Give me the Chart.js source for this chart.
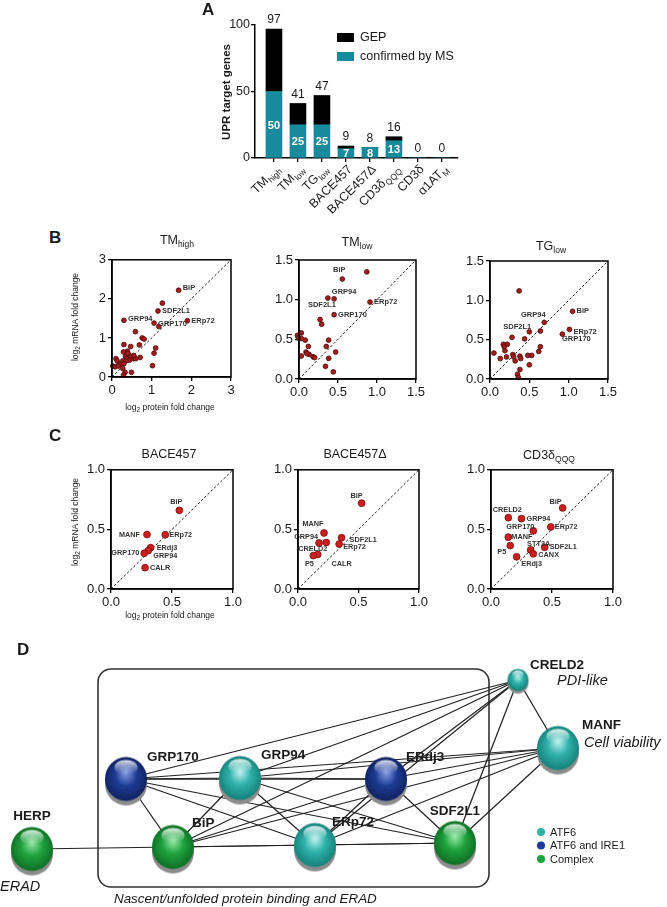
<!DOCTYPE html>
<html><head><meta charset="utf-8">
<script src="https://cdn.jsdelivr.net/npm/chart.js@4.4.1/dist/chart.umd.min.js"></script>
<style>
html,body{margin:0;padding:0;background:#fff;}
body{width:667px;height:907px;position:relative;overflow:hidden;font-family:"Liberation Sans",Arial,Helvetica,sans-serif;color:#1a1a1a;}
canvas{position:absolute;}
.txt{position:absolute;white-space:nowrap;transform:translate(-50%,-50%);line-height:1;}
.pl{font-weight:bold;font-size:17px;transform:none;}
.ttl{font-size:12.5px;}
.ttl sub{font-size:8.5px;vertical-align:-3px;line-height:0;}
.ax{font-size:8.5px;}
.ax sub{font-size:6.5px;vertical-align:-2px;line-height:0;}
.rot{transform:translate(-50%,-50%) rotate(-90deg);}
</style></head><body>
<canvas id="cA" width="300" height="240" style="left:170px;top:0px"></canvas>
<canvas id="cB1" width="165" height="160" style="left:80px;top:250px"></canvas>
<canvas id="cB2" width="165" height="162" style="left:265px;top:250px"></canvas>
<canvas id="cB3" width="170" height="162" style="left:455px;top:250px"></canvas>
<canvas id="cC1" width="175" height="165" style="left:70px;top:460px"></canvas>
<canvas id="cC2" width="175" height="165" style="left:258px;top:460px"></canvas>
<canvas id="cC3" width="180" height="165" style="left:450px;top:460px"></canvas>
<canvas id="cD" width="667" height="267" style="left:0px;top:640px"></canvas>

<div class="txt pl" style="left:202px;top:1px">A</div>
<div class="txt pl" style="left:49px;top:229px">B</div>
<div class="txt pl" style="left:49px;top:427px">C</div>
<div class="txt pl" style="left:17px;top:641px">D</div>

<div class="txt rot" style="left:227px;top:92px;font-weight:bold;font-size:11.5px">UPR target genes</div>

<div class="txt ttl" style="left:177px;top:240px">TM<sub>high</sub></div>
<div class="txt ttl" style="left:357px;top:242px">TM<sub>low</sub></div>
<div class="txt ttl" style="left:551px;top:246px">TG<sub>low</sub></div>
<div class="txt ttl" style="left:169px;top:454px">BACE457</div>
<div class="txt ttl" style="left:355px;top:454px">BACE457Δ</div>
<div class="txt ttl" style="left:549px;top:455px">CD3δ<sub>QQQ</sub></div>

<div class="txt ax rot" style="left:75px;top:317px">log<sub>2</sub> mRNA fold change</div>
<div class="txt ax" style="left:170px;top:407px">log<sub>2</sub> protein fold change</div>
<div class="txt ax rot" style="left:75px;top:522px">log<sub>2</sub> mRNA fold change</div>
<div class="txt ax" style="left:170px;top:615px">log<sub>2</sub> protein fold change</div>

<script>
// ================= DATA =================
// Panel A
const barCategories = [["TM","high"],["TM","low"],["TG","low"],["BACE457",""],["BACE457Δ",""],["CD3δ","QQQ"],["CD3δ",""],["α1AT","M"]];
const gepTotal    = [97, 41, 47, 9, 8, 16, 0, 0];
const confirmedMS = [50, 25, 25, 7, 8, 13, 0, 0];
const barTicks = [0, 50, 100];

// Panel B (log2 protein fold change = x, log2 mRNA fold change = y)
const tmHighX = [1.68,1.27,1.16,0.30,1.06,1.18,1.90,0.59,0.76,0.81,0.30,0.69,0.47,1.10,1.06,0.29,0.39,0.42,0.34,0.47,0.37,0.54,0.71,0.60,0.10,0.13,0.27,0.44,0.35,0.20,0.30,0.02,0.08,0.16,0.27,1.02,0.33,0.29,0.49,0.40,0.55];
const tmHighY = [2.22,1.89,1.69,1.45,1.38,1.29,1.44,1.16,1.00,0.97,0.83,0.82,0.78,0.74,0.61,0.64,0.66,0.57,0.53,0.53,0.47,0.47,0.50,0.47,0.47,0.41,0.41,0.43,0.41,0.33,0.34,0.28,0.26,0.28,0.22,0.29,0.12,0.05,0.12,0.60,0.55];
const tmHighNames = ["BiP","","SDF2L1","GRP94","GRP170","","ERp72"];

const tmLowX = [0.555,0.87,0.37,0.45,0.91,0.45,0.27,0.29,0.38,0.35,0.47,0.38,0.34,0.44,0.12,0.08,0.03,0.03,0.09,0.13,0.18,0.20,0.03,-0.02,-0.01,0.10];
const tmLowY = [1.26,1.35,1.02,1.01,0.97,0.81,0.75,0.69,0.49,0.41,0.34,0.26,0.16,0.09,0.41,0.49,0.58,0.51,0.34,0.31,0.28,0.27,0.29,0.55,0.52,0.32];
const tmLowNames = ["BiP","","SDF2L1","GRP94","ERp72","GRP170"];

const tgLowX = [0.37,1.05,0.69,0.50,0.64,1.01,0.92,0.44,0.28,0.05,0.13,0.17,0.22,0.18,0.19,0.21,0.29,0.30,0.32,0.38,0.39,0.48,0.53,0.62,0.64,0.50,0.38,0.35,0.36];
const tgLowY = [1.12,0.86,0.72,0.60,0.61,0.63,0.57,0.51,0.53,0.33,0.26,0.44,0.44,0.41,0.36,0.28,0.31,0.28,0.23,0.29,0.26,0.30,0.30,0.35,0.41,0.18,0.12,0.06,0.02];
const tgLowNames = ["","BiP","GRP94","SDF2L1","","ERp72","GRP170"];

// Panel C
const bace457X = [0.56,0.295,0.445,0.325,0.306,0.273,0.279];
const bace457Y = [0.66,0.457,0.455,0.347,0.322,0.300,0.179];
const bace457Names = ["BiP","MANF","ERp72","ERdj3","GRP94","GRP170","CALR"];

const bace457dX = [0.526,0.215,0.234,0.174,0.36,0.34,0.163,0.127];
const bace457dY = [0.72,0.47,0.39,0.386,0.43,0.377,0.29,0.28];
const bace457dNames = ["BiP","MANF","","GRP94","SDF2L1","ERp72","CRELD2","P5"];

const cd3X = [0.587,0.142,0.25,0.49,0.347,0.142,0.158,0.325,0.44,0.347,0.21];
const cd3Y = [0.68,0.598,0.59,0.52,0.488,0.435,0.364,0.328,0.35,0.295,0.27];
const cd3Names = ["BiP","CRELD2","GRP94","ERp72","GRP170","MANF","P5","STT3A","SDF2L1","CANX","ERdj3"];

const ticksB1 = [0,1,2,3];
const ticksB  = [0,0.5,1,1.5];
const ticksC  = [0,0.5,1];

// Panel D (network)
const nodeNames = ["GRP170","GRP94","ERdj3","BiP","ERp72","SDF2L1","HERP","CRELD2","MANF"];
const nodeX     = [126, 240, 386, 173, 315, 455, 32, 518, 558];
const nodeY     = [779, 778, 779, 847, 845, 843, 849, 680, 748];
const nodeGroup = ["ATF6 and IRE1","ATF6","ATF6 and IRE1","Complex","ATF6","Complex","Complex","ATF6","ATF6"];
const netGroups = ["ATF6","ATF6 and IRE1","Complex"];
const edges = [
 ["GRP170","GRP94"],["GRP170","ERdj3"],["GRP170","BiP"],["GRP170","ERp72"],["GRP170","SDF2L1"],["GRP170","CRELD2"],["GRP170","MANF"],
 ["GRP94","ERdj3"],["GRP94","BiP"],["GRP94","ERp72"],["GRP94","SDF2L1"],["GRP94","CRELD2"],["GRP94","MANF"],
 ["ERdj3","BiP"],["ERdj3","ERp72"],["ERdj3","SDF2L1"],["ERdj3","CRELD2"],["ERdj3","MANF"],
 ["BiP","ERp72"],["BiP","SDF2L1"],["BiP","CRELD2"],["BiP","MANF"],["BiP","HERP"],
 ["ERp72","SDF2L1"],["ERp72","MANF"],["ERp72","CRELD2"],
 ["SDF2L1","CRELD2"],["SDF2L1","MANF"],["CRELD2","MANF"]
];
const netNotes = [["PDI-like","CRELD2"],["Cell viability","MANF"],["ERAD","HERP"]];
const boxCaption = "Nascent/unfolded protein binding and ERAD";

// ================= STYLE =================
const FF = '"Liberation Sans", Arial, sans-serif';
Chart.defaults.font.family = FF;
Chart.defaults.color = '#1a1a1a';
Chart.defaults.animation = false;
const TEAL = '#178b9b';

// ================= PANEL A =================
const barPlugin = {
  id:'barPlugin',
  afterDraw(chart){
    const {ctx, scales:{x,y}} = chart;
    ctx.save();
    ctx.fillStyle='#1a1a1a'; ctx.textAlign='center'; ctx.textBaseline='bottom';
    ctx.font='12px '+FF;
    gepTotal.forEach((v,i)=>ctx.fillText(String(v), x.getPixelForValue(i), y.getPixelForValue(v)-3));
    ctx.font='bold 11px '+FF; ctx.fillStyle='#fff'; ctx.textBaseline='middle';
    confirmedMS.forEach((v,i)=>{ if(v>0) ctx.fillText(String(v), x.getPixelForValue(i), y.getPixelForValue(v/2)+1); });
    barCategories.forEach(([m,s],i)=>{
      const px=x.getPixelForValue(i), py=y.bottom+9;
      ctx.save(); ctx.translate(px+4, py); ctx.rotate(-Math.PI/4);
      ctx.font='12.5px '+FF; const wm=ctx.measureText(m).width;
      ctx.font='8.5px '+FF; const ws=s?ctx.measureText(s).width+0.5:0;
      ctx.fillStyle='#1a1a1a'; ctx.textAlign='left'; ctx.textBaseline='alphabetic';
      ctx.font='12.5px '+FF; ctx.fillText(m, -(wm+ws), 4);
      if(s){ ctx.font='8.5px '+FF; ctx.fillText(s, -ws+0.5, 7); }
      ctx.restore();
    });
    const items=[['GEP','#000'],['confirmed by MS',TEAL]];
    ctx.font='12.5px '+FF; ctx.textAlign='left'; ctx.textBaseline='middle';
    items.forEach(([t,c],k)=>{
      const ly=33+k*19;
      ctx.fillStyle=c; ctx.fillRect(167, ly, 17, 9);
      ctx.fillStyle='#1a1a1a'; ctx.fillText(t, 190, ly+5);
    });
    ctx.restore();
  }
};
const axisGrid = {display:true, drawOnChartArea:false, drawTicks:true, tickLength:4, color:'#000', lineWidth:1.3, offset:false};
const axisBorder = {display:true, color:'#000', width:1.5};

new Chart(document.getElementById('cA'), {
  type:'bar',
  data:{datasets:[
    {data:confirmedMS.map((v,i)=>({x:i,y:v})), backgroundColor:TEAL, barThickness:16, stack:'s'},
    {data:gepTotal.map((v,i)=>({x:i,y:v-confirmedMS[i]})), backgroundColor:'#000', barThickness:16, stack:'s'}
  ]},
  options:{responsive:false, animation:false,
    layout:{autoPadding:false, padding:{top:25,right:12,left:0,bottom:0}},
    plugins:{legend:{display:false}, tooltip:{enabled:false}},
    scales:{
      x:{type:'linear', offset:false, min:-0.79, max:7.67, stacked:true,
         afterBuildTicks:s=>{s.ticks=barCategories.map((c,i)=>({value:i}));},
         afterFit:s=>{s.height=82;}, ticks:{callback:()=>''},
         grid:axisGrid, border:axisBorder},
      y:{min:0, max:100, stacked:true,
         afterBuildTicks:s=>{s.ticks=barTicks.map(v=>({value:v}));},
         afterFit:s=>{s.width=85;},
         ticks:{font:{size:12.5}, color:'#1a1a1a', padding:1},
         grid:axisGrid, border:axisBorder}
    }},
  plugins:[barPlugin]
});

// ================= PANELS B & C =================
const boxPlugin = {
  id:'boxPlugin',
  afterDraw(chart){
    const a=chart.chartArea, ctx=chart.ctx;
    ctx.save(); ctx.strokeStyle='#000'; ctx.lineWidth=1.5;
    ctx.strokeRect(a.left, a.top, a.right-a.left, a.bottom-a.top);
    ctx.restore();
  }
};
function labelPlugin(names, place, extra, fontPx){
  return {
    id:'ptLabels',
    afterDatasetsDraw(chart){
      const ctx=chart.ctx, meta=chart.getDatasetMeta(0);
      const xs=chart.scales.x, ys=chart.scales.y;
      ctx.save(); ctx.font='bold '+fontPx+'px '+FF; ctx.fillStyle='#333'; ctx.textBaseline='middle';
      names.forEach((n,i)=>{
        if(!n) return;
        const el=meta.data[i]; const p=place[n]||[4,0,'left'];
        ctx.textAlign=p[2]; ctx.fillText(n, el.x+p[0], el.y+p[1]);
      });
      (extra||[]).forEach(e=>{ ctx.textAlign='center'; ctx.fillText(e.text, xs.getPixelForValue(e.x), ys.getPixelForValue(e.y)); });
      ctx.restore();
    }
  };
}
function axisOpt(ticks, dec, max, fit){
  return {type:'linear', min:0, max:max, afterFit:fit,
    afterBuildTicks:s=>{s.ticks=ticks.map(v=>({value:v}));},
    ticks:{font:{size:13}, color:'#1a1a1a', padding:2, callback:v=>Number(v).toFixed(dec)},
    grid:axisGrid, border:axisBorder};
}
function makeScatter(id, xs, ys, names, o){
  const pts = xs.map((x,i)=>({x:x, y:ys[i]}));
  const max = o.ticks[o.ticks.length-1];
  return new Chart(document.getElementById(id), {
    type:'scatter',
    data:{datasets:[
      {data:pts, pointRadius:o.r, backgroundColor:o.fill, borderColor:o.stroke, borderWidth:0.8, clip:false, order:0},
      {type:'line', data:[{x:0,y:0},{x:max,y:max}], borderColor:'#222', borderWidth:1, borderDash:[2.5,2], pointRadius:0, order:1}
    ]},
    options:{responsive:false, animation:false,
      layout:{autoPadding:false, padding:{top:o.padT, right:o.padR, left:0, bottom:0}},
      plugins:{legend:{display:false}, tooltip:{enabled:false}},
      scales:{
        x:axisOpt(o.ticks, o.dec, max, s=>{s.height=o.xH;}),
        y:axisOpt(o.ticks, o.dec, max, s=>{s.width=o.yW;})
      }},
    plugins:[boxPlugin, labelPlugin(names, o.place||{}, o.extra, o.fs)]
  });
}
const stB = {r:2.4, fill:'#a51c1c', stroke:'#4a0808', fs:7.5};
const stC = {r:3.4, fill:'#cc1f1f', stroke:'#7a0a0a', fs:7.3};

makeScatter('cB1', tmHighX, tmHighY, tmHighNames, Object.assign({ticks:ticksB1, dec:0, yW:32, xH:33, padT:8, padR:14,
  place:{BiP:[4,-2,'left'], SDF2L1:[4,0,'left'], GRP94:[4,-1,'left'], GRP170:[4,1,'left'], ERp72:[4,0,'left']}}, stB));
makeScatter('cB2', tmLowX, tmLowY, tmLowNames, Object.assign({ticks:ticksB, dec:1, yW:34, xH:33, padT:10, padR:14,
  place:{BiP:[-3,-9,'center'], GRP94:[10,-7,'center'], SDF2L1:[-6,7,'center'], GRP170:[4,0,'left'], ERp72:[4,0,'left']}}, stB));
makeScatter('cB3', tgLowX, tgLowY, tgLowNames, Object.assign({ticks:ticksB, dec:1, yW:35, xH:33, padT:11, padR:17,
  place:{GRP94:[-11,-7,'center'], SDF2L1:[-12,-5,'center'], BiP:[4,0,'left'], ERp72:[4,2,'left'], GRP170:[14,5,'center']}}, stB));

makeScatter('cC1', bace457X, bace457Y, bace457Names, Object.assign({ticks:ticksC, dec:1, yW:41, xH:36, padT:8, padR:12,
  place:{BiP:[-3,-8,'center'], MANF:[-7,0,'right'], ERp72:[4,0,'left'], ERdj3:[6,0,'left'], GRP94:[5,5,'left'], GRP170:[-5,0,'right'], CALR:[5,0,'left']}}, stC));
makeScatter('cC2', bace457dX, bace457dY, bace457dNames, Object.assign({ticks:ticksC, dec:1, yW:40, xH:36, padT:8, padR:14,
  place:{BiP:[-5,-7,'center'], MANF:[-11,-9,'center'], GRP94:[-1,-6,'right'], CRELD2:[-5,-5,'center'], P5:[-4,8,'center'], SDF2L1:[8,2,'left'], ERp72:[4,3,'left']},
  extra:[{text:'CALR', x:0.36, y:0.21}]}, stC));
makeScatter('cC3', cd3X, cd3Y, cd3Names, Object.assign({ticks:ticksC, dec:1, yW:41, xH:36, padT:8, padR:17,
  place:{BiP:[-7,-6,'center'], CRELD2:[-1,-8,'center'], GRP94:[5,0,'left'], ERp72:[4,0,'left'], GRP170:[-13,-4,'center'], MANF:[3,0,'left'], P5:[-4,6,'right'], STT3A:[8,-6,'center'], SDF2L1:[5,0,'left'], CANX:[5,1,'left'], ERdj3:[15,7,'center']}}, stC));

// ================= PANEL D =================
const groupColors = {
  "ATF6":          {base:'#2fb2ab', light:'#b5ece8', dark:'#15807a'},
  "ATF6 and IRE1": {base:'#1f3c96', light:'#7d95dc', dark:'#10225e'},
  "Complex":       {base:'#1fa33e', light:'#8ee39e', dark:'#0e6e24'}
};
const nodeSize = {CRELD2:10.5};
function makeBall(col, r){
  const sh=Math.max(3, r*0.24), pad=2;
  const w=Math.ceil(2*r+pad*2), h=Math.ceil(2*(r*1.05+sh)+pad*2);
  const c=document.createElement('canvas'); c.width=w; c.height=h;
  const g=c.getContext('2d'); const cx=w/2, cy=h/2;
  g.fillStyle='#8c8c8c'; g.beginPath(); g.ellipse(cx, cy+sh, r, r*1.02, 0, 0, 2*Math.PI); g.fill();
  const grad=g.createRadialGradient(cx, cy-r*0.3, r*0.05, cx, cy, r*1.05);
  grad.addColorStop(0, col.light); grad.addColorStop(0.45, col.base); grad.addColorStop(1, col.dark);
  g.fillStyle=grad; g.beginPath(); g.ellipse(cx, cy, r, r*1.05, 0, 0, 2*Math.PI); g.fill();
  const hg=g.createLinearGradient(0, cy-r*0.95, 0, cy-r*0.25);
  hg.addColorStop(0,'rgba(255,255,255,0.9)'); hg.addColorStop(1,'rgba(255,255,255,0)');
  g.fillStyle=hg; g.beginPath(); g.ellipse(cx, cy-r*0.55, r*0.55, r*0.36, 0, 0, 2*Math.PI); g.fill();
  return c;
}
const ballCache = {};
function ballFor(i){
  const n=nodeNames[i], r=nodeSize[n]||21, key=nodeGroup[i]+r;
  if(!ballCache[key]) ballCache[key]=makeBall(groupColors[nodeGroup[i]], r);
  return ballCache[key];
}
const idx = n => nodeNames.indexOf(n);
const netLabelPlace = {GRP170:[21,-22,'left'], GRP94:[21,-23,'left'], ERdj3:[20,-22,'left'], BiP:[19,-24,'left'], ERp72:[17,-23,'left'],
  SDF2L1:[0,-32,'center'], HERP:[0,-33,'center'], CRELD2:[12,-15,'left'], MANF:[24,-23,'left']};
const netNotePlace = {"PDI-like":[39,1], "Cell viability":[26,-5], "ERAD":[-32,38]};
const rectBox = {x0:98, y0:669, x1:489, y1:887, r:13};
const netPlugin = {
  id:'netPlugin',
  beforeDatasetsDraw(chart){
    const {ctx, scales:{x,y}} = chart;
    const x0=x.getPixelForValue(rectBox.x0), x1=x.getPixelForValue(rectBox.x1), y0=y.getPixelForValue(rectBox.y0), y1=y.getPixelForValue(rectBox.y1), r=rectBox.r;
    ctx.save(); ctx.strokeStyle='#333'; ctx.lineWidth=1.6;
    ctx.beginPath(); ctx.roundRect(x0, y0, x1-x0, y1-y0, r); ctx.stroke();
    ctx.restore();
  },
  afterDatasetsDraw(chart){
    const {ctx, scales:{x,y}} = chart; const meta=chart.getDatasetMeta(0);
    ctx.save(); ctx.fillStyle='#1a1a1a'; ctx.textBaseline='middle';
    ctx.font='bold 13.5px '+FF;
    nodeNames.forEach((n,i)=>{ const p=netLabelPlace[n], el=meta.data[i]; ctx.textAlign=p[2]; ctx.fillText(n, el.x+p[0], el.y+p[1]); });
    ctx.font='italic 14.5px '+FF; ctx.textAlign='left';
    netNotes.forEach(([t,n])=>{ const el=meta.data[idx(n)], p=netNotePlace[t]; ctx.fillText(t, el.x+p[0], el.y+p[1]); });
    ctx.font='italic 13.4px '+FF;
    ctx.fillText(boxCaption, x.getPixelForValue(114), y.getPixelForValue(899));
    ctx.font='11px '+FF;
    netGroups.forEach((g,k)=>{
      const ly=y.getPixelForValue(832+k*13.5), lx=x.getPixelForValue(541);
      ctx.fillStyle=groupColors[g].base; ctx.beginPath(); ctx.arc(lx, ly, 4, 0, 2*Math.PI); ctx.fill();
      ctx.fillStyle='#1a1a1a'; ctx.fillText(g, lx+9, ly+0.5);
    });
    ctx.restore();
  }
};
const edgeSets = edges.map(([a,b])=>({type:'line', showLine:true, order:1, pointRadius:0, borderColor:'#222', borderWidth:1.25, clip:false,
  data:[{x:nodeX[idx(a)], y:nodeY[idx(a)]},{x:nodeX[idx(b)], y:nodeY[idx(b)]}]}));
new Chart(document.getElementById('cD'), {
  type:'scatter',
  data:{datasets:[
    {data:nodeX.map((v,i)=>({x:v, y:nodeY[i]})), order:0, clip:false, pointRadius:20,
     pointStyle:ctx=>ballFor(ctx.dataIndex)}
  ].concat(edgeSets)},
  options:{responsive:false, animation:false, layout:{autoPadding:false, padding:0},
    plugins:{legend:{display:false}, tooltip:{enabled:false}},
    scales:{x:{type:'linear', display:false, min:0, max:667}, y:{type:'linear', display:false, min:640, max:907, reverse:true}}},
  plugins:[netPlugin]
});
</script>
</body></html>
